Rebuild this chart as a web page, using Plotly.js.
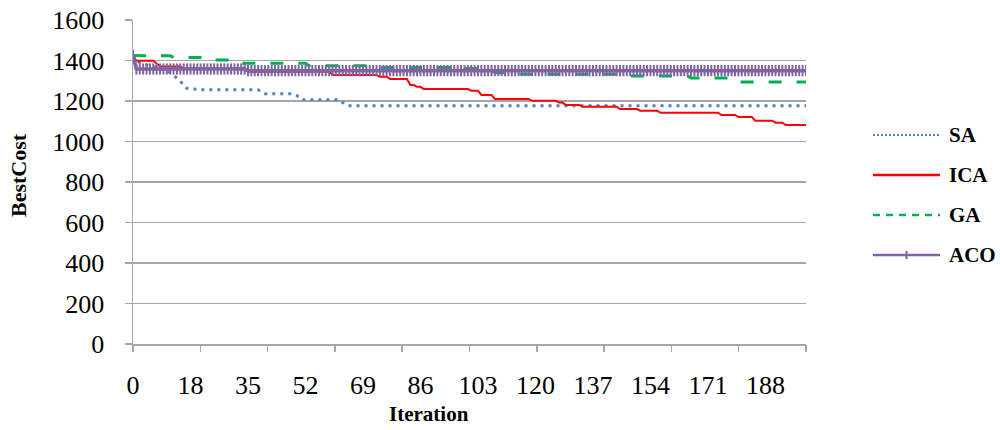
<!DOCTYPE html>
<html>
<head>
<meta charset="utf-8">
<script src="https://cdn.plot.ly/plotly-3.0.1.min.js"></script>
<style>
html,body{margin:0;padding:0;background:#fff;}
#chart{width:1000px;height:430px;}
</style>
</head>
<body>
<div id="chart"></div>
<script>
// Series values, one per iteration (0..199)
const seriesNames = ['SA', 'ICA', 'GA', 'ACO'];

const SA = [
1425,1400,1390,1385,1378,1372,1368,1368,1365,1355,1348,1340,1328,1315,1298,1278,1262,1260,1258,1258,
1256,1256,1256,1256,1256,1256,1256,1256,1256,1256,1256,1256,1256,1256,1256,1256,1256,1256,1245,1236,
1236,1236,1236,1236,1236,1236,1236,1236,1230,1222,1206,1206,1206,1206,1206,1206,1206,1206,1206,1206,
1206,1206,1192,1180,1177,1177,1177,1177,1177,1177,1177,1177,1177,1177,1177,1177,1177,1177,1177,1177,
1177,1177,1177,1177,1177,1177,1177,1177,1177,1177,1177,1177,1177,1177,1177,1177,1177,1177,1177,1177,
1177,1177,1177,1177,1177,1177,1177,1177,1177,1177,1177,1177,1177,1177,1177,1177,1177,1177,1177,1177,
1177,1177,1177,1177,1177,1177,1177,1177,1177,1177,1177,1177,1177,1177,1177,1177,1177,1177,1177,1177,
1177,1177,1177,1177,1177,1177,1177,1177,1177,1177,1177,1177,1177,1177,1177,1177,1177,1177,1177,1177,
1177,1177,1177,1177,1177,1177,1177,1177,1177,1177,1177,1177,1177,1177,1177,1177,1177,1177,1177,1177,
1177,1177,1177,1177,1177,1177,1177,1177,1177,1177,1177,1177,1177,1177,1177,1177,1177,1177,1177,1177
];

const ICA = [
1425,1399,1399,1399,1399,1399,1399,1385,1370,1370,1370,1370,1370,1370,1370,1360,1360,1360,1360,1360,
1360,1360,1360,1360,1360,1360,1360,1360,1360,1360,1360,1360,1360,1360,1345,1345,1345,1345,1345,1345,
1345,1345,1345,1345,1345,1345,1345,1345,1345,1345,1345,1345,1345,1345,1345,1345,1345,1345,1345,1328,
1328,1328,1328,1328,1328,1328,1328,1328,1328,1328,1328,1328,1328,1320,1320,1320,1309,1309,1309,1309,
1309,1309,1279,1279,1270,1270,1259,1259,1259,1259,1259,1259,1259,1259,1259,1259,1259,1259,1259,1259,
1251,1251,1251,1230,1230,1230,1230,1210,1210,1210,1210,1210,1210,1210,1210,1210,1210,1210,1201,1201,
1201,1201,1201,1201,1201,1201,1192,1192,1180,1180,1180,1180,1180,1172,1172,1172,1172,1172,1172,1172,
1172,1172,1172,1172,1160,1160,1160,1160,1160,1160,1152,1152,1152,1152,1152,1152,1142,1142,1142,1142,
1142,1142,1142,1142,1142,1142,1142,1142,1142,1142,1142,1142,1142,1142,1131,1131,1131,1131,1131,1121,
1121,1121,1121,1121,1103,1103,1103,1103,1103,1103,1093,1093,1093,1081,1081,1081,1081,1081,1081,1081
];

const GA = [
1425,1424,1424,1424,1424,1424,1424,1424,1424,1424,1424,1424,1415,1415,1415,1415,1415,1415,1415,1415,
1415,1415,1415,1402,1402,1402,1402,1402,1402,1402,1402,1386,1386,1386,1386,1386,1386,1386,1386,1386,
1386,1386,1386,1386,1386,1386,1386,1386,1386,1386,1386,1386,1374,1374,1374,1374,1374,1374,1374,1374,
1374,1374,1374,1374,1374,1374,1374,1374,1374,1374,1374,1374,1366,1366,1366,1366,1366,1366,1366,1366,
1366,1366,1366,1366,1366,1366,1366,1366,1366,1366,1366,1366,1366,1366,1366,1361,1361,1361,1361,1361,
1361,1361,1361,1350,1350,1350,1350,1340,1340,1340,1340,1332,1332,1332,1332,1332,1332,1332,1332,1332,
1332,1332,1332,1332,1332,1332,1332,1332,1332,1332,1332,1332,1332,1332,1332,1332,1332,1332,1332,1332,
1332,1332,1332,1332,1332,1332,1323,1323,1323,1323,1323,1323,1323,1323,1323,1323,1323,1323,1323,1323,
1323,1323,1323,1323,1323,1314,1314,1314,1314,1314,1314,1314,1314,1314,1314,1314,1314,1314,1294,1294,
1294,1294,1294,1294,1294,1294,1294,1294,1294,1294,1294,1294,1294,1294,1294,1294,1294,1294,1294,1294
];

const ACO = [
1425,1358,1358,1358,1358,1358,1358,1358,1358,1358,1358,1358,1358,1358,1358,1358,1358,1358,1358,1358,
1358,1358,1358,1358,1358,1358,1358,1358,1358,1358,1358,1358,1358,1358,1350,1350,1350,1350,1350,1350,
1350,1350,1350,1350,1350,1350,1350,1350,1350,1350,1350,1350,1350,1350,1350,1350,1350,1350,1350,1350,
1350,1350,1350,1350,1350,1350,1350,1350,1350,1350,1350,1350,1350,1350,1350,1350,1350,1350,1350,1350,
1350,1350,1350,1350,1350,1350,1350,1350,1350,1350,1350,1350,1350,1350,1350,1350,1350,1350,1350,1350,
1350,1350,1350,1350,1350,1350,1350,1350,1350,1350,1350,1350,1350,1350,1350,1350,1350,1350,1350,1350,
1350,1350,1350,1350,1350,1350,1350,1350,1350,1350,1350,1350,1350,1350,1350,1350,1350,1350,1350,1350,
1350,1350,1350,1350,1350,1350,1350,1350,1350,1350,1350,1350,1350,1350,1350,1350,1350,1350,1350,1350,
1350,1350,1350,1350,1350,1350,1350,1350,1350,1350,1350,1350,1350,1350,1350,1350,1350,1350,1350,1350,
1350,1350,1350,1350,1350,1350,1350,1350,1350,1350,1350,1350,1350,1350,1350,1350,1350,1350,1350,1350
];

// Category tick labels (label every 17 categories) and tick-mark positions
const xLabelPos = [0, 17, 34, 51, 68, 85, 102, 119, 136, 153, 170, 187];
const xLabels = ['0', '18', '35', '52', '69', '86', '103', '120', '137', '154', '171', '188'];
const xTickMarks = [0, 19.9, 39.8, 59.7, 79.6, 99.5, 119.4, 139.3, 159.2, 179.1, 199];
const yTicks = [0, 200, 400, 600, 800, 1000, 1200, 1400, 1600];

const colors = {SA: '#4F81BD', ICA: '#FF0000', GA: '#00B050', ACO: '#8064A2'};
const serif = "'Liberation Serif', 'Times New Roman', serif";
const grid = '#A6A6A6';

const traces = [
  {y: SA, name: 'SA', type: 'scatter', mode: 'lines',
   line: {color: colors.SA, width: 3, dash: '3px,5px'}, showlegend: false},
  {y: ICA, name: 'ICA', type: 'scatter', mode: 'lines',
   line: {color: colors.ICA, width: 2}, showlegend: false},
  {y: GA, name: 'GA', type: 'scatter', mode: 'lines',
   line: {color: colors.GA, width: 3, dash: '13px,15px'}, showlegend: false},
  {y: ACO, name: 'ACO', type: 'scatter', mode: 'lines+markers',
   line: {color: colors.ACO, width: 3.5},
   marker: {symbol: 'line-ns', size: 8, line: {color: colors.ACO, width: 2}, color: colors.ACO},
   showlegend: false},
  {x: [], y: [], xaxis: 'x2', yaxis: 'y', type: 'scatter', mode: 'lines',
   showlegend: false, hoverinfo: 'skip'}
];

// Manual legend (long line samples like the original)
const L = 133, R = 194, T = 20, B = 86, W = 1000, H = 430;
const pw = W - L - R, ph = H - T - B;
const px2x = p => (p - L) / pw;
const py2y = p => (H - B - p) / ph;
const legendRows = [135, 175, 215, 255];
const legendDash = {SA: '2px,2px', ICA: 'solid', GA: '7px,6px', ACO: 'solid'};
const legendWidth = {SA: 2, ICA: 2.5, GA: 2.5, ACO: 2.5};
const shapes = [];
const annotations = [];
seriesNames.forEach((n, i) => {
  const yy = py2y(legendRows[i]);
  shapes.push({type: 'line', xref: 'paper', yref: 'paper',
    x0: px2x(873), x1: px2x(940), y0: yy, y1: yy,
    line: {color: colors[n], width: legendWidth[n], dash: legendDash[n]}});
  annotations.push({xref: 'paper', yref: 'paper', x: px2x(947), y: yy,
    xanchor: 'left', yanchor: 'middle', showarrow: false, text: '<b>' + n + '</b>',
    font: {family: serif, size: 21, color: '#000'}});
});
shapes.push({type: 'line', xref: 'paper', yref: 'paper',
  x0: px2x(906.5), x1: px2x(906.5), y0: py2y(259), y1: py2y(251),
  line: {color: colors.ACO, width: 2}});

annotations.push({xref: 'paper', yref: 'paper', x: px2x(18), y: py2y(175),
  xanchor: 'center', yanchor: 'middle', textangle: -90, showarrow: false,
  text: '<b>BestCost</b>', font: {family: serif, size: 22, color: '#000'}});
annotations.push({xref: 'paper', yref: 'paper', x: px2x(429), y: py2y(414),
  xanchor: 'center', yanchor: 'middle', showarrow: false, borderpad: 0,
  text: '<b>Iteration</b>', font: {family: serif, size: 21, color: '#000'}});

const layout = {
  width: W, height: H,
  margin: {l: L, r: R, t: T, b: B, pad: 0},
  paper_bgcolor: '#fff', plot_bgcolor: '#fff',
  showlegend: false,
  font: {family: serif, color: '#000'},
  xaxis: {range: [0, 199], tickmode: 'array', tickvals: xLabelPos, ticktext: xLabels,
    ticks: '', showgrid: false, zeroline: false, showline: true, linecolor: grid, linewidth: 1.5,
    tickfont: {family: serif, size: 26, color: '#000'}, ticklabelstandoff: 17},
  xaxis2: {range: [0, 199], overlaying: 'x', anchor: 'y', side: 'bottom',
    tickmode: 'array', tickvals: xTickMarks, ticks: 'outside', ticklen: 7,
    tickcolor: grid, tickwidth: 1.5, showticklabels: false, showgrid: false,
    zeroline: false, showline: false},
  yaxis: {range: [0, 1600], tickmode: 'array', tickvals: yTicks,
    showgrid: true, gridcolor: grid, gridwidth: 1.3, zeroline: false,
    showline: true, linecolor: grid, linewidth: 1.5,
    ticks: 'outside', ticklen: 7, tickcolor: grid, tickwidth: 1.3,
    tickfont: {family: serif, size: 26, color: '#000'}, ticklabelstandoff: 15},
  shapes: shapes,
  annotations: annotations
};

Plotly.newPlot('chart', traces, layout, {staticPlot: true, displayModeBar: false});
</script>
</body>
</html>
